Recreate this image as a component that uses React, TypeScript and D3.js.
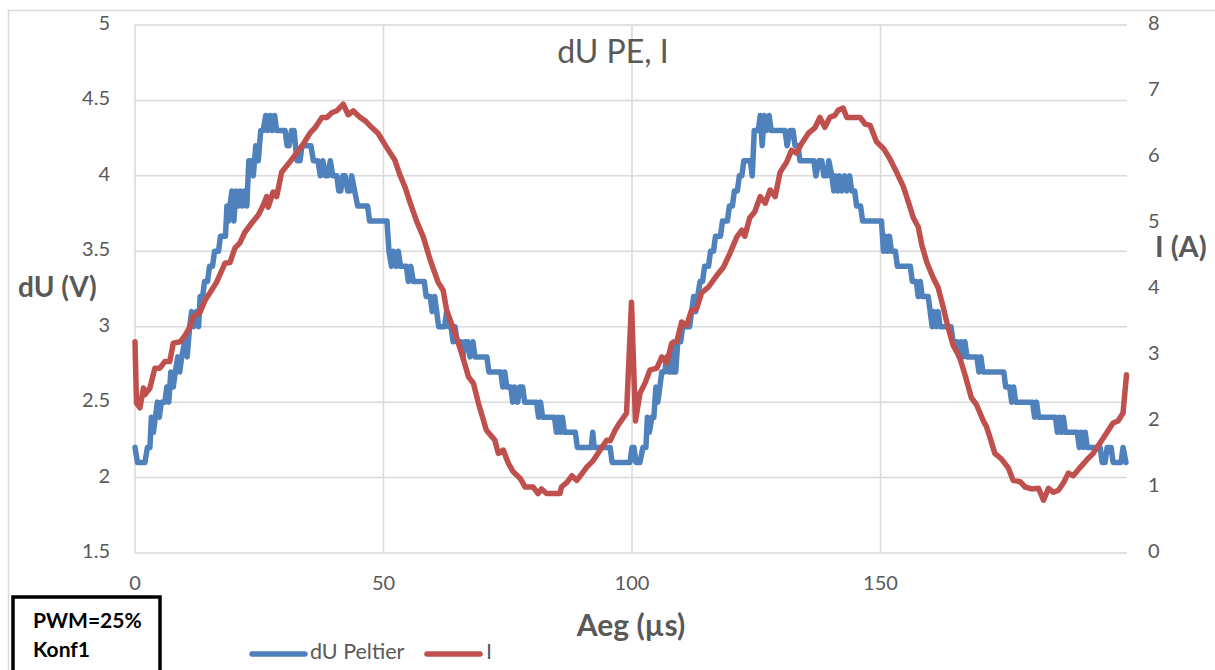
import React from 'react'
import * as d3 from 'd3'

// dU Peltier (V), left axis
const duTime = [
  0, 0.5, 2, 2.5, 3, 3.3, 3.7, 4.1, 4.5, 4.9, 5.3, 6, 6.4, 6.8, 7.2, 7.7, 8.1, 8.6, 9, 9.4,
  10, 10.5, 11, 11.4, 11.8, 12.4, 12.8, 13.1, 13.6, 14, 14.6, 15, 15.6, 16, 16.8, 17.2, 18.2, 18.5, 18.8, 19.1,
  19.5, 19.9, 20.3, 20.8, 21.2, 21.6, 22.1, 22.5, 22.9, 23.4, 23.8, 24.3, 24.8, 25.3, 25.8, 26.3, 26.7, 27.2, 27.6, 28.1,
  28.5, 30.2, 30.6, 31, 31.5, 32, 32.6, 33.2, 33.6, 35.4, 35.9, 36.8, 37.3, 37.8, 38.3, 38.8, 39.3, 39.8, 40.6, 41,
  41.4, 41.8, 42.3, 42.8, 43.3, 43.6, 44.2, 44.8, 46.8, 47.2, 50.7, 51.1, 51.6, 52, 52.6, 53, 53.4, 54.6, 55, 55.5,
  56, 58.2, 58.6, 59.4, 59.8, 60.3, 60.7, 61.1, 62.3, 62.7, 63.1, 63.6, 64, 64.4, 64.8, 65.6, 66, 66.4, 67, 67.4,
  68, 68.4, 70.8, 71.2, 73.6, 74, 74.4, 74.8, 75.6, 76, 76.4, 77, 77.4, 78, 78.4, 80.8, 81.2, 81.6, 82, 84.4,
  84.8, 85.2, 85.6, 86, 86.4, 88.6, 89, 91.8, 92.1, 92.4, 95.6, 96, 99.6, 100, 100.4, 100.8, 101.6, 102.2, 102.8, 103.1,
  103.5, 104, 104.4, 104.8, 105.2, 105.6, 106, 106.6, 107, 107.4, 108, 108.4, 108.8, 109.2, 109.8, 110.2, 111.6, 112, 112.4, 112.8,
  113.2, 113.7, 114.2, 114.6, 115.4, 115.8, 116.4, 116.8, 117.8, 118.2, 119.2, 119.6, 120.2, 120.6, 121.2, 121.6, 122.1, 122.5, 123.8, 124.2,
  124.6, 125.4, 125.8, 126.2, 126.6, 127, 127.6, 128, 130.8, 131.2, 131.8, 132.4, 132.8, 133.4, 133.8, 136.6, 137, 137.6, 138.2, 138.6,
  139.2, 139.6, 140.2, 140.6, 141, 141.4, 141.8, 142.2, 142.8, 143.2, 143.8, 144.2, 144.8, 145.2, 146, 146.4, 150.2, 150.6, 151, 151.4,
  151.8, 152.2, 153, 153.4, 156, 156.4, 157.2, 157.6, 158, 158.4, 159.6, 160, 160.4, 160.8, 161.2, 161.6, 162, 164.2, 164.6, 165.4,
  165.8, 166.2, 166.6, 167, 167.4, 169.4, 169.8, 170.2, 170.6, 174.8, 175.2, 176, 176.4, 176.8, 177.2, 180.6, 181, 181.4, 181.8, 185.2,
  185.6, 186, 186.4, 186.8, 187.2, 189.6, 190, 190.4, 190.8, 191.2, 191.6, 194.2, 194.6, 195.2, 195.6, 196.4, 196.8, 198.4, 198.8, 199.4,
]
const duValues = [
  2.2, 2.1, 2.1, 2.2, 2.2, 2.4, 2.3, 2.4, 2.5, 2.4, 2.5, 2.5, 2.6, 2.5, 2.7, 2.6, 2.7, 2.8, 2.7, 2.8,
  2.9, 2.8, 3.0, 3.1, 3.0, 3.1, 3.0, 3.2, 3.2, 3.3, 3.3, 3.4, 3.4, 3.5, 3.5, 3.6, 3.6, 3.8, 3.7, 3.8,
  3.9, 3.7, 3.9, 3.8, 3.9, 3.8, 3.9, 3.8, 4.1, 4.1, 4.0, 4.2, 4.1, 4.3, 4.3, 4.4, 4.3, 4.4, 4.3, 4.4,
  4.3, 4.3, 4.2, 4.2, 4.3, 4.3, 4.1, 4.1, 4.2, 4.2, 4.1, 4.1, 4.0, 4.1, 4.0, 4.0, 4.1, 4.0, 4.0, 3.9,
  3.9, 4.0, 4.0, 3.9, 3.9, 4.0, 3.9, 3.8, 3.8, 3.7, 3.7, 3.5, 3.4, 3.5, 3.4, 3.5, 3.4, 3.4, 3.3, 3.4,
  3.3, 3.3, 3.2, 3.2, 3.1, 3.2, 3.1, 3.0, 3.0, 3.1, 3.0, 3.0, 2.9, 3.0, 2.9, 2.9, 2.8, 2.9, 2.9, 2.8,
  2.9, 2.8, 2.8, 2.7, 2.7, 2.6, 2.7, 2.6, 2.6, 2.5, 2.6, 2.5, 2.6, 2.6, 2.5, 2.5, 2.4, 2.5, 2.4, 2.4,
  2.3, 2.4, 2.3, 2.4, 2.3, 2.3, 2.2, 2.2, 2.3, 2.2, 2.2, 2.1, 2.1, 2.2, 2.2, 2.1, 2.1, 2.2, 2.2, 2.4,
  2.3, 2.4, 2.4, 2.6, 2.5, 2.6, 2.7, 2.7, 2.8, 2.7, 2.7, 2.9, 2.7, 2.9, 2.9, 3.0, 3.0, 3.1, 3.2, 3.1,
  3.2, 3.3, 3.3, 3.4, 3.4, 3.5, 3.5, 3.6, 3.6, 3.7, 3.7, 3.8, 3.8, 3.9, 3.9, 4.0, 4.0, 4.1, 4.1, 4.0,
  4.3, 4.3, 4.4, 4.2, 4.4, 4.3, 4.4, 4.3, 4.3, 4.2, 4.3, 4.3, 4.2, 4.2, 4.1, 4.1, 4.0, 4.1, 4.1, 4.0,
  4.0, 4.1, 4.0, 3.9, 4.0, 3.9, 4.0, 3.9, 4.0, 3.9, 4.0, 3.9, 3.9, 3.8, 3.8, 3.7, 3.7, 3.5, 3.6, 3.5,
  3.6, 3.5, 3.5, 3.4, 3.4, 3.3, 3.3, 3.2, 3.3, 3.2, 3.2, 3.1, 3.0, 3.1, 3.0, 3.1, 3.0, 3.0, 2.9, 2.9,
  2.8, 2.9, 2.8, 2.9, 2.8, 2.8, 2.7, 2.8, 2.7, 2.7, 2.6, 2.6, 2.5, 2.6, 2.5, 2.5, 2.4, 2.5, 2.4, 2.4,
  2.3, 2.4, 2.3, 2.4, 2.3, 2.3, 2.2, 2.3, 2.2, 2.3, 2.2, 2.2, 2.1, 2.1, 2.2, 2.2, 2.1, 2.1, 2.2, 2.1,
]

// I (A), right axis
const iTime = [
  0, 0.3, 1, 1.7, 2, 3, 4, 5, 6, 7, 7.7, 9.1, 10.1, 11.1, 11.7, 13.1, 14.1, 15.4, 16.4, 18.1,
  19.1, 20.1, 21.1, 22.1, 23.5, 24.8, 25.8, 26.5, 26.8, 27.8, 28.5, 29.5, 30.9, 32.5, 33.9, 35.2, 36.2, 37.6, 38.6, 39.6,
  40.6, 41.9, 42.9, 43.9, 45.3, 46.3, 47.6, 48.9, 50.6, 52.3, 53.3, 54.3, 55.3, 56.7, 58, 59.4, 61, 62, 62.7, 64.4,
  65.7, 67.1, 68.1, 69.1, 70.7, 72.4, 73.1, 74.1, 75.1, 76.1, 77.5, 78.5, 80.1, 81.1, 81.8, 82.8, 84.1, 85.5, 85.8, 86.9,
  87.9, 88.9, 89.9, 90.9, 92.2, 93.6, 94.9, 95.6, 96.6, 97.6, 98.9, 99.9, 100.7, 101.6, 102.6, 103.6, 105, 106, 107, 108,
  109, 110, 111, 112, 113, 114, 115.4, 117, 118.4, 119.7, 121.1, 122.1, 122.7, 123.7, 124.7, 125.8, 126.8, 127.8, 128.8, 129.8,
  131.1, 132.1, 133.1, 134.1, 135.5, 136.8, 137.8, 138.8, 139.8, 140.8, 141.5, 142.5, 143.2, 145.9, 146.9, 147.9, 149.2, 150.6, 151.9, 153.3,
  154.6, 155.6, 156.6, 157.6, 158.3, 159.3, 160.6, 161.6, 162.6, 163.6, 164.6, 165.9, 167, 168.3, 169.3, 170.7, 171.3, 172, 173, 174.4,
  175.7, 176.7, 178.1, 179.1, 180.4, 181.8, 182.8, 183.8, 184.8, 185.8, 186.8, 187.8, 188.8, 190.1, 191.5, 192.8, 194.2, 195.5, 196.8, 197.8,
  198.8, 199.5,
]
const iValues = [
  3.2, 2.27, 2.2, 2.5, 2.4, 2.5, 2.8, 2.8, 2.9, 2.9, 3.18, 3.2, 3.3, 3.43, 3.58, 3.65, 3.83, 3.98, 4.1, 4.39,
  4.4, 4.62, 4.7, 4.86, 5.0, 5.12, 5.27, 5.4, 5.24, 5.47, 5.4, 5.77, 5.9, 6.06, 6.2, 6.36, 6.44, 6.6, 6.6, 6.67,
  6.7, 6.8, 6.64, 6.7, 6.6, 6.55, 6.45, 6.36, 6.15, 5.95, 5.73, 5.55, 5.32, 5.02, 4.79, 4.44, 4.1, 3.98, 3.68, 3.33,
  3.03, 2.67, 2.57, 2.27, 1.86, 1.71, 1.51, 1.56, 1.36, 1.23, 1.13, 1.0, 1.0, 0.9, 0.97, 0.9, 0.9, 0.9, 1.0, 1.07,
  1.17, 1.1, 1.2, 1.3, 1.4, 1.56, 1.71, 1.7, 1.86, 1.98, 2.12, 3.8, 2.0, 2.42, 2.57, 2.77, 2.8, 2.97, 2.88, 3.18,
  3.2, 3.5, 3.45, 3.68, 3.7, 3.94, 4.03, 4.2, 4.33, 4.54, 4.79, 4.89, 4.8, 5.08, 5.17, 5.4, 5.3, 5.5, 5.4, 5.77,
  5.92, 6.1, 6.06, 6.2, 6.36, 6.44, 6.6, 6.45, 6.6, 6.63, 6.71, 6.74, 6.6, 6.6, 6.5, 6.48, 6.23, 6.13, 5.97, 5.76,
  5.55, 5.32, 5.08, 4.94, 4.67, 4.41, 4.17, 4.02, 3.73, 3.42, 3.15, 2.97, 2.7, 2.35, 2.25, 2.0, 1.92, 1.76, 1.51, 1.42,
  1.29, 1.1, 1.08, 1.0, 0.97, 0.98, 0.8, 0.98, 0.92, 0.95, 1.06, 1.21, 1.17, 1.29, 1.41, 1.51, 1.67, 1.82, 1.97, 2.0,
  2.12, 2.7,
]

const xTicks = [0, 50, 100, 150]
const leftTicks = [1.5, 2, 2.5, 3, 3.5, 4, 4.5, 5]
const rightTicks = [0, 1, 2, 3, 4, 5, 6, 7, 8]

const font = 'Lato, "Open Sans", sans-serif'
const grey = '#595959'
const blue = '#4F81BD'
const red = '#C0504D'

export default function App() {
  const x = d3.scaleLinear().domain([0, 199.6]).range([135, 1127])
  const yL = d3.scaleLinear().domain([1.5, 5]).range([553, 25])
  const yR = d3.scaleLinear().domain([0, 8]).range([553, 25])

  const duLine = d3.line<number>().x((_, i) => x(duTime[i])).y((d) => yL(d))
  const iLine = d3.line<number>().x((_, i) => x(iTime[i])).y((d) => yR(d))

  return (
    <svg width={1215} height={670} style={{ position: 'absolute', left: 0, top: 0, background: '#fff' }}>
      <path d="M8.5,670 V10.5 H1215" fill="none" stroke="#D9D9D9" strokeWidth={1.5} />

      {leftTicks.map((t) => (
        <line key={`h${t}`} x1={x(0)} x2={x(199.6)} y1={yL(t)} y2={yL(t)} stroke="#D9D9D9" strokeWidth={1.5} />
      ))}
      {xTicks.map((t) => (
        <line key={`v${t}`} x1={x(t)} x2={x(t)} y1={yL(5)} y2={yL(1.5)} stroke="#D9D9D9" strokeWidth={1.5} />
      ))}

      <text x={613} y={55} textAnchor="middle" dominantBaseline="middle" fontFamily={font} fontSize={32} fill={grey}>dU PE, I</text>

      {leftTicks.map((t) => (
        <text key={`l${t}`} x={110} y={yL(t)} textAnchor="end" dominantBaseline="middle" fontFamily={font} fontSize={20} fill={grey}>{t}</text>
      ))}
      {rightTicks.map((t) => (
        <text key={`r${t}`} x={1148} y={yR(t)} dominantBaseline="middle" fontFamily={font} fontSize={20} fill={grey}>{t}</text>
      ))}
      {xTicks.map((t) => (
        <text key={`x${t}`} x={x(t)} y={585} textAnchor="middle" dominantBaseline="middle" fontFamily={font} fontSize={20} fill={grey}>{t}</text>
      ))}

      <text x={18} y={290} dominantBaseline="middle" fontFamily={font} fontSize={28} fontWeight="bold" fill={grey}>dU (V)</text>
      <text x={1155} y={250} dominantBaseline="middle" fontFamily={font} fontSize={29} fontWeight="bold" fill={grey}>I (A)</text>
      <text x={631} y={628} textAnchor="middle" dominantBaseline="middle" fontFamily={font} fontSize={30} fontWeight="bold" fill={grey}>Aeg (µs)</text>

      <path d={duLine(duValues) ?? ''} fill="none" stroke={blue} strokeWidth={5.5} strokeLinejoin="round" strokeLinecap="round" />
      <path d={iLine(iValues) ?? ''} fill="none" stroke={red} strokeWidth={5.5} strokeLinejoin="round" strokeLinecap="round" />

      <line x1={252} x2={305} y1={654} y2={654} stroke={blue} strokeWidth={5.5} strokeLinecap="round" />
      <text x={310} y={654} dominantBaseline="middle" fontFamily={font} fontSize={21.5} fill={grey}>dU Peltier</text>
      <line x1={427} x2={480} y1={654} y2={654} stroke={red} strokeWidth={5.5} strokeLinecap="round" />
      <text x={486} y={654} dominantBaseline="middle" fontFamily={font} fontSize={21.5} fill={grey}>I</text>

      <rect x={13} y={597} width={147} height={90} fill="#fff" stroke="#000" strokeWidth={3.5} />
      <text x={33} y={628} fontFamily={font} fontSize={21} fontWeight="bold" fill="#000">PWM=25%</text>
      <text x={33} y={657} fontFamily={font} fontSize={21} fontWeight="bold" fill="#000">Konf1</text>
    </svg>
  )
}
